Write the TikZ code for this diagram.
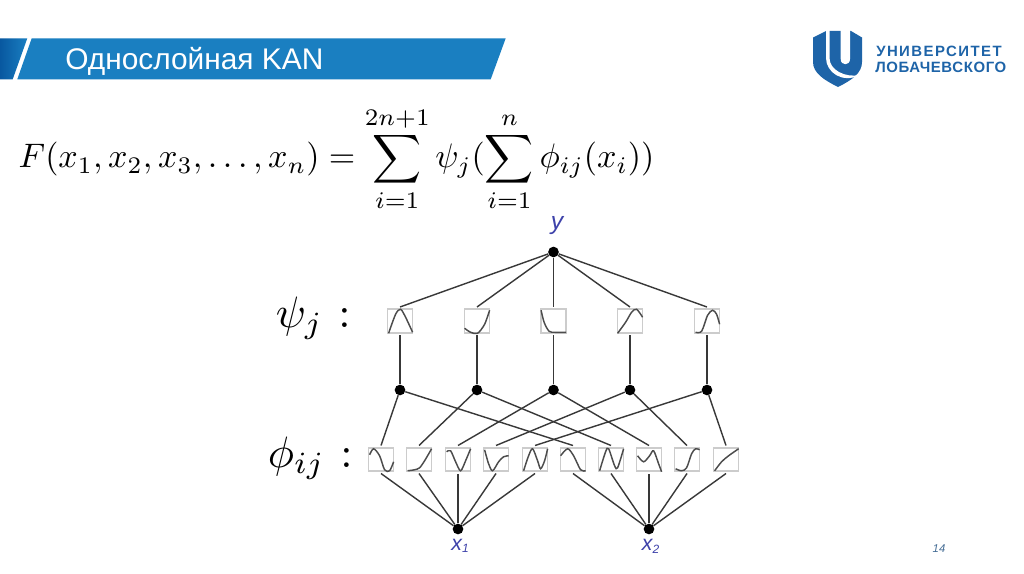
\documentclass[tikz,border=0pt]{standalone}
\usepackage{amsmath}
\usepackage{fontspec}
\newfontfamily\arialfont{Liberation Sans}
\newfontfamily\logofonttop[LetterSpace=9.7]{Liberation Sans}
\newfontfamily\logofontbottom[LetterSpace=4.3]{Liberation Sans}
\usetikzlibrary{
  arrows.meta,
  calc
}
\definecolor{titleBlue}{RGB}{26,127,193}
\definecolor{titleDark}{RGB}{8,88,160}
\definecolor{logoBlue}{RGB}{30,100,168}
\definecolor{labelBlue}{RGB}{62,66,170}
\definecolor{pageStroke}{RGB}{70,110,150}
\colorlet{ink}{black!78}
\colorlet{boxStroke}{black!20}
\tikzset{
  link/.style={draw=ink, line width=1.05pt},
  fnbox/.style={
    draw=boxStroke,
    fill=white,
    line width=1.2pt,
    minimum width=18.6pt,
    minimum height=17.6pt,
    inner sep=0pt,
    outer sep=1.7pt
  },
  dot/.style={
    circle,
    fill=black,
    minimum size=8pt,
    inner sep=0pt
  },
  curve/.style={draw=black!70, line width=1.1pt},
  varlabel/.style={
    font=\arialfont\itshape\fontsize{16}{16}\selectfont,
    text=labelBlue,
    inner sep=0pt
  },
  mathlabel/.style={
    scale=3.3,
    anchor=base west,
    inner sep=0pt
  },
  logotext/.style={
    text=logoBlue,
    anchor=base west,
    inner sep=0pt
  }
}
\newcommand{\FnCurve}[2]{%
  \draw[curve, shift={($(#1.north west)+(1.7pt,-1.7pt)$)}] plot[smooth] coordinates {#2};
}
\newcommand{\VarSub}[1]{\raisebox{-2pt}{\fontsize{9}{9}\selectfont #1}}
\begin{document}
\begin{tikzpicture}[x=0.75pt,y=-0.75pt]
  \path[fill=white, use as bounding box] (0,0) rectangle (1024,574);

  % title bar
  \path[left color=titleDark, right color=titleBlue] (0,38.3) -- (27.3,38.3) -- (12.7,79.3) -- (0,79.3) -- cycle;
  \path[fill=titleBlue] (31.7,38.3) -- (505.7,38.3) -- (490.7,79.3) -- (17.3,79.3) -- cycle;
  \node[font=\arialfont\fontsize{22.4}{24}\selectfont, text=white, anchor=base west, inner sep=0pt] (title) at (65,70) {Однослойная KAN};

  % logo
  \path[fill=logoBlue] (813,37.5) -- (826,31) -- (851,31) -- (862,37.5) -- (862,62) .. controls (862,73) and (852,80) .. (838,87) .. controls (824,80) and (813,73) .. (813,62) -- cycle;
  \path[fill=white] (826,29) -- (826,58) .. controls (826,72) and (842,84) .. (860,75) .. controls (845,78) and (829.5,70) .. (829.5,58) -- (829.5,29) -- cycle;
  \path[fill=white] (840.7,29) -- (840.7,59) .. controls (840.7,66) and (850,66) .. (850,59) -- (850,29) -- cycle;
  \node[logotext, font=\logofonttop\bfseries\fontsize{11.2}{12}\selectfont] (logotop) at (876,57) {УНИВЕРСИТЕТ};
  \node[logotext, font=\logofontbottom\bfseries\fontsize{11.2}{12}\selectfont] (logobottom) at (875,72.5) {ЛОБАЧЕВСКОГО};

  % formula
  \node[scale=2.55, anchor=base west, inner sep=0pt] (formula) at (18,168)
    {$\displaystyle F(x_1,x_2,x_3,\ldots,x_n)=\sum_{i=1}^{2n+1}\psi_j(\sum_{i=1}^{n}\phi_{ij}(x_i))$};

  % layer labels
  \node[mathlabel] (psilabel) at (275,327) {$\psi_j\mkern1.3mu:$};
  \node[mathlabel] (philabel) at (267,467) {$\phi_{ij}\mkern1.3mu:$};

  % nodes
  \node[dot] (y) at (553.5,252) {};
  \node[varlabel, font=\arialfont\itshape\fontsize{18.5}{18}\selectfont] (ylabel) at (557,226) {y};
  \foreach \i/\x in {1/400,2/477,3/553.5,4/630,5/707} {
    \node[fnbox] (p\i) at (\x,321) {};
    \node[dot] (m\i) at (\x,390) {};
  }
  \foreach \i/\x in {1/381,2/419,3/458,4/496,5/535,6/573,7/611,8/649,9/687,10/726} {
    \node[fnbox] (f\i) at (\x,459.5) {};
  }
  \node[dot] (x1) at (458,529) {};
  \node[dot] (x2) at (649,529) {};
  \node[varlabel] (x1label) at (460,546) {x\VarSub{1}};
  \node[varlabel] (x2label) at (650.5,546.5) {x\VarSub{2}};

  % connectors
  \foreach \i in {1,...,5} {
    \draw[link] (y) -- (p\i.north);
    \draw[link] (p\i.south) -- (m\i);
    \draw[link] (m\i) -- (f\i.north);
    \draw[link] (x1) -- (f\i.south);
  }
  \foreach \i/\j in {1/6,2/7,3/8,4/9,5/10} {
    \draw[link] (m\i) -- (f\j.north);
    \draw[link] (x2) -- (f\j.south);
  }

  % curves
  \FnCurve{p1}{(1,24) (8,5) (13,0) (18,8) (25,23)}
  \FnCurve{p2}{(0,19) (6,23) (13,24) (20,15) (25,1)}
  \FnCurve{p3}{(0,1) (3,13) (8,22) (14,23) (25,23)}
  \FnCurve{p4}{(0,24) (8,13) (14,3) (19,0) (25,8)}
  \FnCurve{p5}{(1,23) (7,22) (13,6) (18,1) (22,5) (25,15)}
  \FnCurve{f1}{(1,7) (5,1) (11,8) (16,22) (21,23) (25,14)}
  \FnCurve{f2}{(1,23) (8,22) (13,20) (18,13) (25,1)}
  \FnCurve{f3}{(1,4) (5,3) (10,14) (15,23) (20,13) (25,1)}
  \FnCurve{f4}{(1,2) (5,16) (9,23) (15,14) (20,9) (25,8)}
  \FnCurve{f5}{(1,23) (6,8) (10,1) (15,13) (18,21) (22,13) (25,1)}
  \FnCurve{f6}{(0,8) (7,1) (13,8) (20,22) (25,23)}
  \FnCurve{f7}{(1,23) (7,4) (10,1) (16,18) (19,20) (25,1)}
  \FnCurve{f8}{(1,8) (7,14) (13,8) (17,3) (22,16) (25,24)}
  \FnCurve{f9}{(1,21) (7,23) (12,20) (17,6) (21,1) (25,2)}
  \FnCurve{f10}{(1,23) (8,14) (15,8) (25,1)}

  % page number
  \node[font=\arialfont\itshape\fontsize{8.5}{9}\selectfont, text=pageStroke, inner sep=0pt] (pagenum) at (939,549) {14};
\end{tikzpicture}
\end{document}
